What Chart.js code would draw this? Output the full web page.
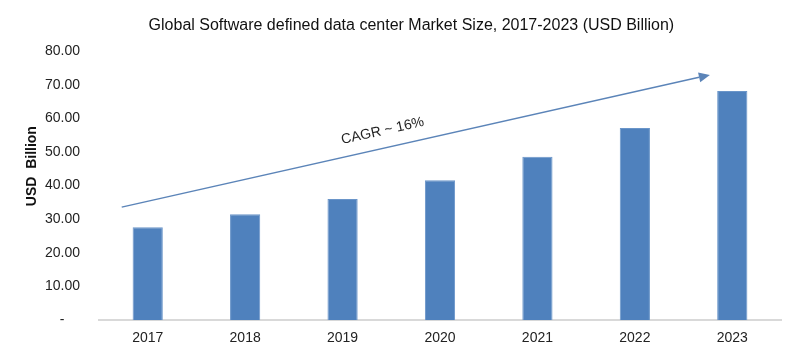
<!DOCTYPE html>
<html>
<head>
<meta charset="utf-8">
<script src="https://cdn.jsdelivr.net/npm/chart.js@4/dist/chart.umd.min.js"></script>
<style>
html,body{margin:0;padding:0;background:#fff;}
#wrap{width:800px;height:357px;position:relative;}
</style>
</head>
<body>
<div id="wrap"><canvas id="c"></canvas></div>
<script>
const categories = ["2017", "2018", "2019", "2020", "2021", "2022", "2023"];
const marketSize = [27.6, 31.5, 36.0, 41.6, 48.6, 57.1, 68.1];
const yTicks = [0, 10, 20, 30, 40, 50, 60, 70, 80];
const chartTitle = "    Global Software defined data center Market Size, 2017-2023 (USD Billion)";
const yAxisTitle = "          USD  Billion";
const cagrLabel = "CAGR ~ 16%";
// arrow anchor points in data space: [category index, value]
const arrowStart = [-0.267, 33.6];
const arrowEnd = [5.77, 72.9];

const FONT = "'Liberation Sans', Arial, sans-serif";

const arrowPlugin = {
  id: 'cagrArrow',
  afterDatasetsDraw(chart) {
    const {ctx, scales: {x, y}} = chart;
    const x1 = x.getPixelForValue(arrowStart[0]), y1 = y.getPixelForValue(arrowStart[1]);
    const x2 = x.getPixelForValue(arrowEnd[0]), y2 = y.getPixelForValue(arrowEnd[1]);
    const ang = Math.atan2(y2 - y1, x2 - x1);
    ctx.save();
    ctx.strokeStyle = '#5B84B8';
    ctx.fillStyle = '#5B84B8';
    ctx.lineWidth = 1.5;
    const headLen = 11, headW = 5;
    const bx = x2 - headLen * Math.cos(ang), by = y2 - headLen * Math.sin(ang);
    ctx.beginPath();
    ctx.moveTo(x1, y1);
    ctx.lineTo(bx, by);
    ctx.stroke();
    ctx.beginPath();
    ctx.moveTo(x2, y2);
    ctx.lineTo(bx + headW * Math.sin(ang), by - headW * Math.cos(ang));
    ctx.lineTo(bx - headW * Math.sin(ang), by + headW * Math.cos(ang));
    ctx.closePath();
    ctx.fill();
    // label
    const t = 0.45;
    const mx = x1 + (x2 - x1) * t, my = y1 + (y2 - y1) * t;
    const off = 17;
    const tx = mx + off * Math.sin(ang), ty = my - off * Math.cos(ang);
    ctx.translate(tx, ty);
    ctx.rotate(ang);
    ctx.fillStyle = '#222';
    ctx.font = "14px " + FONT;
    ctx.textAlign = 'center';
    ctx.textBaseline = 'middle';
    ctx.fillText(cagrLabel, 0, 0);
    ctx.restore();
  }
};

new Chart(document.getElementById('c'), {
  type: 'bar',
  data: {
    labels: categories,
    datasets: [{
      data: marketSize,
      backgroundColor: '#4F81BD',
      borderColor: '#6A95C9',
      borderWidth: 1,
      barPercentage: 0.31,
      categoryPercentage: 1.0
    }]
  },
  options: {
    responsive: true,
    maintainAspectRatio: false,
    animation: false,
    layout: {padding: {left: 24, right: 19, top: 0, bottom: 0}},
    plugins: {
      legend: {display: false},
      tooltip: {enabled: false},
      title: {
        display: true,
        text: chartTitle,
        color: '#111',
        font: {family: FONT, size: 16, weight: 'normal'},
        padding: {top: 16.4, bottom: 15.4}
      }
    },
    scales: {
      x: {
        grid: {display: false, drawTicks: false},
        border: {display: true, color: '#D9D9D9', width: 2},
        ticks: {color: '#222', font: {family: FONT, size: 14}, padding: 10}
      },
      y: {
        min: 0, max: 80,
        afterBuildTicks(scale) { scale.ticks = yTicks.map(v => ({value: v})); },
        afterFit(scale) { scale.width = 75; },
        grid: {display: false, drawTicks: false},
        border: {display: false},
        ticks: {
          color: '#222',
          font: {family: FONT, size: 14},
          padding: 19,
          callback: (v) => v === 0 ? '-    ' : Number(v).toFixed(2)
        },
        title: {
          display: true,
          text: yAxisTitle,
          color: '#111',
          font: {family: FONT, size: 14, weight: 'bold'},
          padding: {top: 0, bottom: 0}
        }
      }
    }
  },
  plugins: [arrowPlugin]
});
</script>
</body>
</html>
